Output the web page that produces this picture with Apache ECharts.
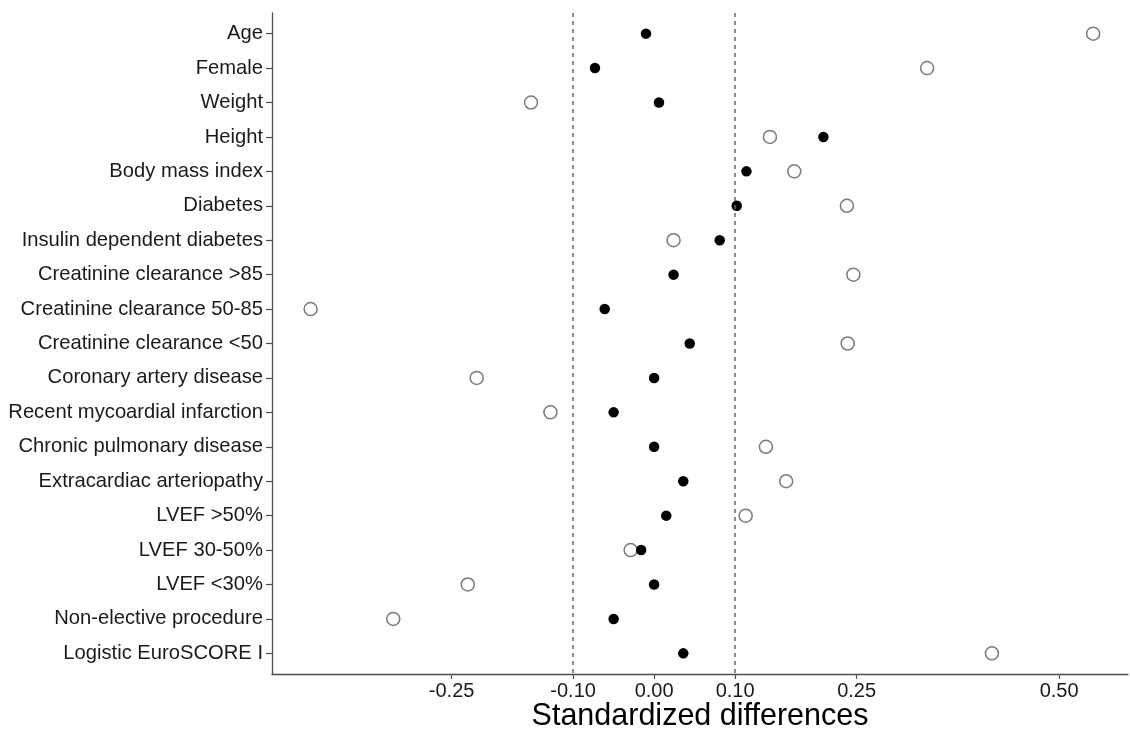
<!DOCTYPE html>
<html>
<head>
<meta charset="utf-8">
<title>Standardized differences</title>
<script src="https://cdn.jsdelivr.net/npm/echarts@6/dist/echarts.min.js"></script>
<style>
  html, body { margin: 0; padding: 0; background: #ffffff; }
  #chart { width: 1130px; height: 731px; }
</style>
</head>
<body>
<div id="chart"></div>
<script>
// Covariates, top to bottom
const categories = [
  'Age', 'Female', 'Weight', 'Height', 'Body mass index', 'Diabetes',
  'Insulin dependent diabetes', 'Creatinine clearance >85',
  'Creatinine clearance 50-85', 'Creatinine clearance <50',
  'Coronary artery disease', 'Recent mycoardial infarction',
  'Chronic pulmonary disease', 'Extracardiac arteriopathy',
  'LVEF >50%', 'LVEF 30-50%', 'LVEF <30%', 'Non-elective procedure',
  'Logistic EuroSCORE I'
];

// Standardized differences before matching (open circles)
const beforeMatching = [
  0.542, 0.337, -0.152, 0.143, 0.173, 0.238,
  0.024, 0.246, -0.424, 0.239,
  -0.219, -0.128, 0.138, 0.163,
  0.113, -0.029, -0.230, -0.322, 0.417
];

// Standardized differences after matching (filled dots)
const afterMatching = [
  -0.010, -0.073, 0.006, 0.209, 0.114, 0.102,
  0.081, 0.024, -0.061, 0.044,
  0.000, -0.050, 0.000, 0.036,
  0.015, -0.016, 0.000, -0.050, 0.036
];

// Axis tick values and balance thresholds
const xTicks = [-0.25, -0.10, 0.00, 0.10, 0.25, 0.50];
const thresholds = [-0.10, 0.10];

const FONT = '"Liberation Sans", Arial, Helvetica, sans-serif';

const rows = categories.map((_, i) => i + 1);
const toPoints = values => values.map((v, i) => [v, rows[i]]);

const chart = echarts.init(document.getElementById('chart'), null, { renderer: 'canvas' });

chart.setOption({
  backgroundColor: '#ffffff',
  animation: false,
  textStyle: { fontFamily: FONT },
  grid: {
    left: 272, right: 2, top: 13, bottom: 57,
    containLabel: false,
    outerBoundsMode: 'none'
  },
  xAxis: {
    type: 'value',
    min: -0.4717,
    max: 0.585,
    splitLine: { show: false },
    axisLine: { show: true, onZero: false, lineStyle: { color: '#4d4d4d', width: 1.3 } },
    axisTick: {
      show: true, length: 5,
      customValues: xTicks,
      lineStyle: { color: '#4d4d4d', width: 1.2 }
    },
    axisLabel: {
      customValues: xTicks,
      formatter: v => v.toFixed(2),
      color: '#1a1a1a',
      fontSize: 20,
      fontFamily: FONT,
      margin: 7
    },
    name: 'Standardized differences',
    nameLocation: 'middle',
    nameGap: 27,
    nameMoveOverlap: false,
    nameTextStyle: { color: '#000000', fontSize: 30.5, fontFamily: FONT }
  },
  yAxis: {
    type: 'value',
    inverse: true,
    min: 0.4,
    max: 19.6,
    splitLine: { show: false },
    axisLine: { show: true, onZero: false, lineStyle: { color: '#4d4d4d', width: 1.3 } },
    axisTick: {
      show: true, length: 6,
      customValues: rows,
      lineStyle: { color: '#4d4d4d', width: 1.2 }
    },
    axisLabel: {
      customValues: rows,
      formatter: v => categories[Math.round(v) - 1] || '',
      color: '#1a1a1a',
      fontSize: 20.2,
      fontFamily: FONT,
      margin: 9,
      padding: [3, 0, 0, 0]
    }
  },
  series: [
    {
      name: 'Before matching',
      type: 'scatter',
      symbol: 'circle',
      symbolSize: 13,
      itemStyle: { color: '#ffffff', borderColor: '#7a7a7a', borderWidth: 1.5, opacity: 1 },
      data: toPoints(beforeMatching),
      markLine: {
        silent: true,
        symbol: 'none',
        label: { show: false },
        lineStyle: { color: '#666666', type: [4, 4], width: 1.5 },
        data: thresholds.map(t => ({ xAxis: t }))
      }
    },
    {
      name: 'After matching',
      type: 'scatter',
      symbol: 'circle',
      symbolSize: 10.5,
      itemStyle: { color: '#000000', opacity: 1 },
      data: toPoints(afterMatching)
    }
  ]
});
</script>
</body>
</html>
